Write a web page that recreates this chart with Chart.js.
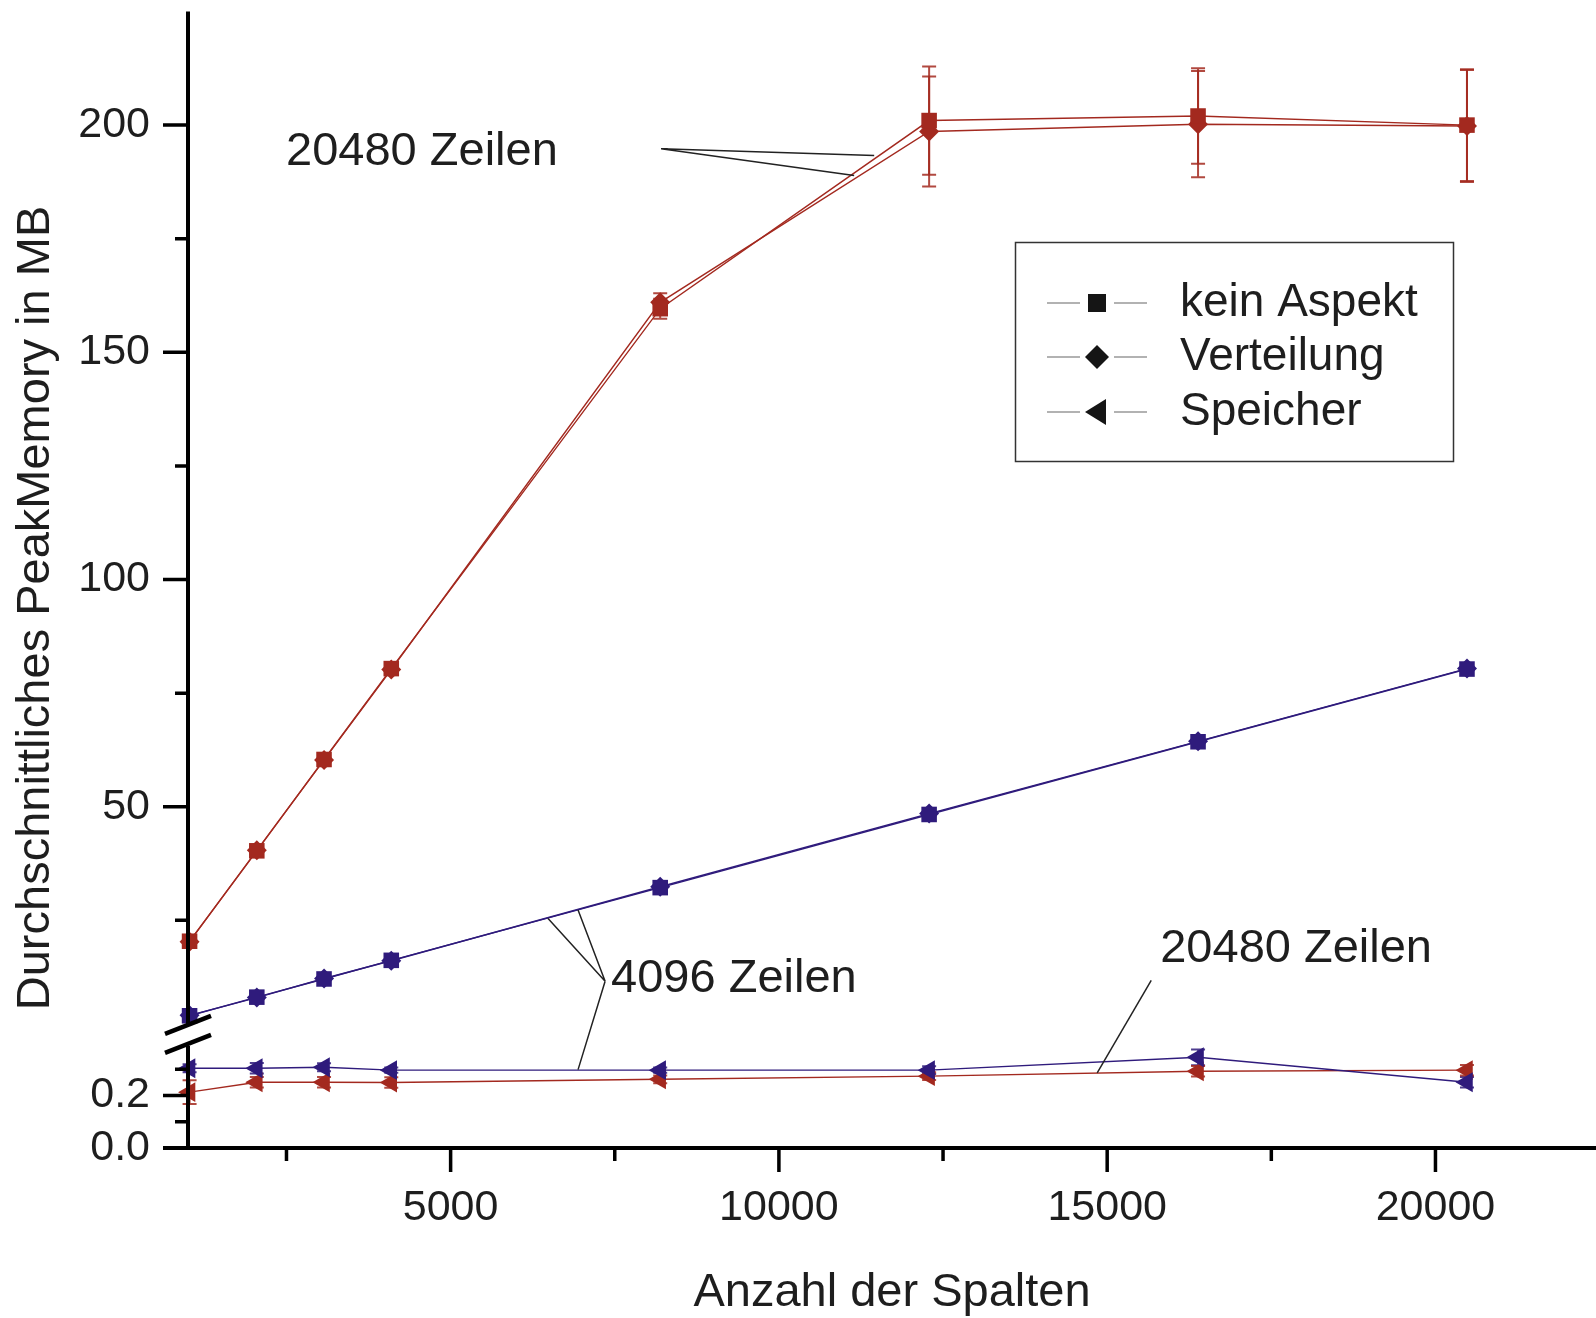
<!DOCTYPE html>
<html>
<head>
<meta charset="utf-8">
<script src="https://cdn.jsdelivr.net/npm/chart.js@4.4.0/dist/chart.umd.min.js"></script>
<style>
  html, body { margin: 0; padding: 0; background: #fff; }
</style>
</head>
<body>
<canvas id="peak-chart" width="1596" height="1318"></canvas>
<script>
// Anzahl der Spalten
const columns = [1024, 2048, 3072, 4096, 8192, 12288, 16384, 20480];

// oberer Bereich (MB)
const keinAspekt20480 = [20.4, 40.3, 60.4, 80.4, 159.6, 201.0, 202.0, 200.0];
const keinAspekt20480Err = [0.8, 0.8, 0.8, 0.8, 2.2, 11.9, 10.5, 12.3];
const verteilung20480 = [20.3, 40.4, 60.3, 80.2, 161.0, 198.6, 200.2, 199.8];
const verteilung20480Err = [0.8, 0.8, 0.8, 0.8, 2.0, 12.1, 11.7, 12.3];
const keinAspekt4096 = [4.0, 8.1, 12.1, 16.2, 32.2, 48.3, 64.3, 80.3];
const verteilung4096 = [4.1, 8.0, 12.2, 16.1, 32.4, 48.5, 64.4, 80.4];
const smallErr4096 = [0.3, 0.3, 0.3, 0.3, 0.4, 0.5, 0.5, 0.5];

// unterer Bereich (MB)
const speicher4096 = [0.304, 0.304, 0.308, 0.297, 0.297, 0.297, 0.346, 0.251];
const speicher4096Err = [0.015, 0.02, 0.015, 0.01, 0.01, 0.015, 0.03, 0.02];
const speicher20480 = [0.213, 0.251, 0.251, 0.250, 0.262, 0.274, 0.293, 0.297];
const speicher20480Err = [0.045, 0.02, 0.02, 0.02, 0.015, 0.015, 0.02, 0.02];

// Achsenbeschriftung
const xMajorTicks = [5000, 10000, 15000, 20000];
const xMinorTicks = [2500, 7500, 12500, 17500];
const yUpperMajorTicks = [50, 100, 150, 200];
const yUpperMinorTicks = [25, 75, 125, 175];
const yLowerMajorTicks = [0.0, 0.2];
const yLowerMinorTicks = [0.1, 0.3];

const legendNames = ['kein Aspekt', 'Verteilung', 'Speicher'];
const legendMarkers = ['rect', 'rectRot', 'triLeft'];

const RED = '#a3291f';
const BLUE = '#2f1b7c';
const FONT = '"Liberation Sans", Arial, sans-serif';

function pts(values) {
  return columns.map((c, i) => ({ x: c, y: values[i] }));
}

function drawText(ctx, text, x, y, size, align, rotate) {
  ctx.save();
  ctx.font = size + 'px ' + FONT;
  ctx.fillStyle = '#1e1e1e';
  ctx.translate(x, y);
  if (rotate) ctx.rotate(-Math.PI / 2);
  ctx.textAlign = align;
  ctx.textBaseline = 'middle';
  ctx.fillText(text, 0, 0);
  ctx.restore();
}

function drawMarker(ctx, type, x, y) {
  ctx.beginPath();
  if (type === 'rect') {
    ctx.rect(x - 9, y - 9, 18, 18);
  } else if (type === 'rectRot') {
    ctx.moveTo(x, y - 12); ctx.lineTo(x + 12, y); ctx.lineTo(x, y + 12); ctx.lineTo(x - 12, y);
    ctx.closePath();
  } else {
    ctx.moveTo(x - 12, y); ctx.lineTo(x + 9, y - 13); ctx.lineTo(x + 9, y + 13);
    ctx.closePath();
  }
  ctx.fill();
}

// annotations, anchored in data coordinates
const annotations = [
  { text: '20480 Zeilen', tx: 2493, ty: 194.1, ts: 'yUpper',
    hub: [8206, 194.8, 'yUpper'], ends: [[11451, 193.3, 'yUpper'], [11146, 188.9, 'yUpper']] },
  { text: '4096 Zeilen', tx: 7444, ty: 12.0, ts: 'yUpper',
    hub: [7353, 11.6, 'yUpper'], ends: [[6484, 25.4, 'yUpper'], [6941, 27.3, 'yUpper'], [6941, 0.299, 'yLower']] },
  { text: '20480 Zeilen', tx: 15808, ty: 18.6, ts: 'yUpper',
    hub: [15671, 11.8, 'yUpper'], ends: [[14848, 0.287, 'yLower']] }
];

const decorPlugin = {
  id: 'decor',
  beforeDatasetsDraw(chart) {
    const ctx = chart.ctx;
    const xs = chart.scales.x;
    chart.data.datasets.forEach(ds => {
      if (!ds.errors) return;
      const ys = chart.scales[ds.yAxisID];
      ctx.save();
      ctx.strokeStyle = ds.borderColor;
      ctx.globalAlpha = 0.85;
      ctx.lineWidth = 2;
      ds.data.forEach((p, i) => {
        const px = xs.getPixelForValue(p.x);
        const top = ys.getPixelForValue(p.y + ds.errors[i]);
        const bot = ys.getPixelForValue(p.y - ds.errors[i]);
        ctx.beginPath();
        ctx.moveTo(px, top); ctx.lineTo(px, bot);
        ctx.moveTo(px - 7, top); ctx.lineTo(px + 7, top);
        ctx.moveTo(px - 7, bot); ctx.lineTo(px + 7, bot);
        ctx.stroke();
      });
      ctx.restore();
    });
  },
  afterDraw(chart) {
    const ctx = chart.ctx;
    const xs = chart.scales.x;
    const yu = chart.scales.yUpper;
    const yl = chart.scales.yLower;
    const area = chart.chartArea;
    const ax = area.left;
    const boundary = yu.bottom;

    ctx.save();
    ctx.strokeStyle = '#000';
    ctx.lineCap = 'butt';
    // y axis with break
    ctx.lineWidth = 4;
    ctx.beginPath();
    ctx.moveTo(ax, area.top); ctx.lineTo(ax, boundary - 9);
    ctx.moveTo(ax, boundary + 12); ctx.lineTo(ax, area.bottom + 2);
    ctx.stroke();
    // break marks
    ctx.lineWidth = 4.5;
    ctx.beginPath();
    ctx.moveTo(ax - 23, boundary - 9 + 9); ctx.lineTo(ax + 23, boundary - 9 - 9);
    ctx.moveTo(ax - 23, boundary + 10 + 9); ctx.lineTo(ax + 23, boundary + 10 - 9);
    ctx.stroke();
    // x axis (0.0 tick runs into it)
    ctx.lineWidth = 4;
    ctx.beginPath();
    ctx.moveTo(ax - 25, area.bottom); ctx.lineTo(chart.width, area.bottom);
    ctx.stroke();

    // ticks
    ctx.lineWidth = 3.5;
    ctx.beginPath();
    yUpperMajorTicks.forEach(v => { const y = yu.getPixelForValue(v); ctx.moveTo(ax - 25, y); ctx.lineTo(ax, y); });
    yUpperMinorTicks.forEach(v => { const y = yu.getPixelForValue(v); ctx.moveTo(ax - 13, y); ctx.lineTo(ax, y); });
    yLowerMajorTicks.forEach(v => { const y = yl.getPixelForValue(v); ctx.moveTo(ax - 25, y); ctx.lineTo(ax, y); });
    yLowerMinorTicks.forEach(v => { const y = yl.getPixelForValue(v); ctx.moveTo(ax - 13, y); ctx.lineTo(ax, y); });
    xMajorTicks.forEach(v => { const x = xs.getPixelForValue(v); ctx.moveTo(x, area.bottom); ctx.lineTo(x, area.bottom + 24); });
    xMinorTicks.forEach(v => { const x = xs.getPixelForValue(v); ctx.moveTo(x, area.bottom); ctx.lineTo(x, area.bottom + 13); });
    ctx.stroke();
    ctx.restore();

    // axis titles
    drawText(ctx, 'Durchschnittliches PeakMemory in MB', 36, 608, 47, 'center', true);
    drawText(ctx, 'Anzahl der Spalten', 892, 1293, 47, 'center', false);

    // annotations with leader lines
    annotations.forEach(a => {
      const hx = xs.getPixelForValue(a.hub[0]);
      const hy = chart.scales[a.hub[2]].getPixelForValue(a.hub[1]);
      ctx.save();
      ctx.strokeStyle = '#222';
      ctx.lineWidth = 1.5;
      ctx.beginPath();
      a.ends.forEach(e => {
        ctx.moveTo(hx, hy);
        ctx.lineTo(xs.getPixelForValue(e[0]), chart.scales[e[2]].getPixelForValue(e[1]));
      });
      ctx.stroke();
      ctx.restore();
      drawText(ctx, a.text, xs.getPixelForValue(a.tx), chart.scales[a.ts].getPixelForValue(a.ty), 47, 'left', false);
    });

    // legend box
    ctx.save();
    ctx.strokeStyle = '#333';
    ctx.lineWidth = 1.5;
    ctx.strokeRect(1015.5, 242.5, 438, 219);
    const rows = [303, 357, 412];
    legendNames.forEach((name, i) => {
      const y = rows[i];
      ctx.strokeStyle = '#666';
      ctx.lineWidth = 1.2;
      ctx.beginPath();
      ctx.moveTo(1047, y); ctx.lineTo(1080, y);
      ctx.moveTo(1114, y); ctx.lineTo(1147, y);
      ctx.stroke();
      ctx.fillStyle = '#151515';
      drawMarker(ctx, legendMarkers[i], 1097, y);
      drawText(ctx, name, 1180, y, 46, 'left', false);
    });
    ctx.restore();
  }
};

function lineSet(label, values, errors, color, style, radius, axis) {
  return {
    label: label,
    data: pts(values),
    errors: errors,
    yAxisID: axis,
    borderColor: color,
    backgroundColor: color,
    borderWidth: 1.4,
    pointStyle: style,
    pointRadius: radius,
    pointBorderWidth: 0,
    pointRotation: style === 'triangle' ? -90 : 0,
    tension: 0,
    clip: false
  };
}

const tickFont = { family: FONT, size: 43 };

function noPad(s) {
  s.paddingTop = 0;
  s.paddingBottom = 0;
  s.paddingLeft = 0;
  s.paddingRight = 0;
}

new Chart(document.getElementById('peak-chart'), {
  type: 'line',
  data: {
    datasets: [
      lineSet('kein Aspekt 20480', keinAspekt20480, keinAspekt20480Err, RED, 'rect', 11, 'yUpper'),
      lineSet('Verteilung 20480', verteilung20480, verteilung20480Err, RED, 'rectRot', 10, 'yUpper'),
      lineSet('kein Aspekt 4096', keinAspekt4096, smallErr4096, BLUE, 'rect', 11, 'yUpper'),
      lineSet('Verteilung 4096', verteilung4096, smallErr4096, BLUE, 'rectRot', 10, 'yUpper'),
      lineSet('Speicher 4096', speicher4096, speicher4096Err, BLUE, 'triangle', 11.5, 'yLower'),
      lineSet('Speicher 20480', speicher20480, speicher20480Err, RED, 'triangle', 11.5, 'yLower')
    ]
  },
  options: {
    responsive: false,
    animation: false,
    devicePixelRatio: 1,
    layout: { padding: { left: 0, right: 0, top: 9, bottom: 0 } },
    plugins: { legend: { display: false }, tooltip: { enabled: false } },
    scales: {
      x: {
        type: 'linear',
        min: 1000,
        max: 22270,
        grid: { display: false, drawTicks: false },
        border: { display: false },
        afterBuildTicks: s => { s.ticks = xMajorTicks.map(v => ({ value: v })); },
        afterFit: s => { s.height = 170; noPad(s); },
        ticks: { font: tickFont, color: '#1e1e1e', padding: 34, maxRotation: 0, autoSkip: false,
                 callback: v => String(v) }
      },
      yUpper: {
        type: 'linear',
        position: 'left',
        stack: 'y',
        stackWeight: 1024.7,
        weight: 2,
        min: 0,
        max: 225,
        grid: { display: false, drawTicks: false },
        border: { display: false },
        afterBuildTicks: s => { s.ticks = yUpperMajorTicks.map(v => ({ value: v })); },
        afterFit: s => { s.width = 188; noPad(s); },
        ticks: { font: tickFont, color: '#1e1e1e', padding: 38, autoSkip: false,
                 callback: v => String(v) }
      },
      yLower: {
        type: 'linear',
        position: 'left',
        stack: 'y',
        stackWeight: 114.3,
        weight: 1,
        min: 0,
        max: 0.435,
        grid: { display: false, drawTicks: false },
        border: { display: false },
        afterBuildTicks: s => { s.ticks = yLowerMajorTicks.map(v => ({ value: v })); },
        afterFit: s => { s.width = 188; noPad(s); },
        ticks: { font: tickFont, color: '#1e1e1e', padding: 38, autoSkip: false,
                 callback: v => v.toFixed(1) }
      }
    }
  },
  plugins: [decorPlugin]
});
</script>
</body>
</html>
